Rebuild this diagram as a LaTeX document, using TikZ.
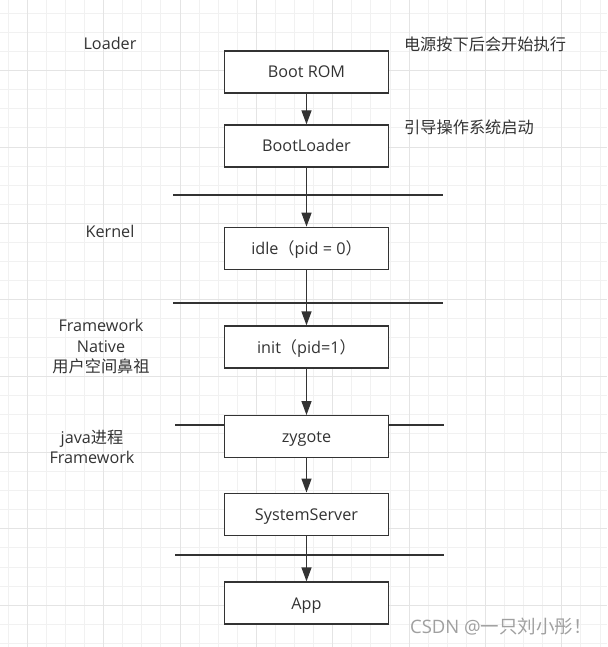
\documentclass[tikz,border=0pt]{standalone}
\usepackage{fontspec}
\setmainfont{Open Sans}
\newfontfamily\cjk{Noto Sans CJK SC}
\usetikzlibrary{arrows.meta}
\definecolor{ink}{HTML}{333333}
\definecolor{gridminor}{HTML}{F1F1F1}
\definecolor{gridmajor}{HTML}{E4E4E4}
\definecolor{wmgray}{HTML}{A0A0A0}
\begin{document}
\begin{tikzpicture}[x=1pt,y=-1pt,
  box/.style={draw=ink, line width=1.3pt, fill=white, minimum width=164pt, minimum height=42pt, inner sep=0pt, text height=15.5pt, text depth=3.5pt, text=ink, font=\fontsize{16.2}{19}\selectfont},
  lbl/.style={text=ink, font=\fontsize{16.2}{20.5}\selectfont, align=center, inner sep=0pt},
  flow/.style={draw=ink, line width=1.3pt, -{Triangle[length=14pt,width=10pt]}},
  sep/.style={draw=ink, line width=1.3pt}]
\useasboundingbox (0,0) rectangle (607,647);
\fill[white] (0,0) rectangle (607,647);
% grid
\foreach \i in {0,...,31} { \draw[gridminor, line width=1pt] ({8.2+19.09*\i},0) -- ++(0,647); }
\foreach \i in {0,...,33} { \draw[gridminor, line width=1pt] (0,{13.4+19.09*\i}) -- ++(607,0); }
\foreach \i in {0,...,7} { \draw[gridmajor, line width=1pt] ({27.3+76.36*\i},0) -- ++(0,647); }
\foreach \i in {-1,...,7} { \draw[gridmajor, line width=1pt] (0,{70.7+76.36*\i}) -- ++(607,0); }
% separators
\coordinate (s1a) at (173,195); \coordinate (s1b) at (443,195);
\coordinate (s2a) at (173,303); \coordinate (s2b) at (443,303);
\coordinate (s3a) at (175,425); \coordinate (s3b) at (444,425);
\coordinate (s4a) at (175,555); \coordinate (s4b) at (444,555);
\draw[sep] (s1a) -- (s1b);
\draw[sep] (s2a) -- (s2b);
\draw[sep] (s3a) -- (s3b);
\draw[sep] (s4a) -- (s4b);
% boxes
\node[box] (rom) at (306.5,72) {Boot ROM};
\node[box] (bl) at (306.5,146) {BootLoader};
\node[box] (idle) at (306.5,248.3) {idle{\cjk （}pid = 0{\cjk ）}};
\node[box] (init) at (306.5,347) {init{\cjk （}pid=1{\cjk ）}};
\node[box] (zyg) at (306.5,436.7) {zygote};
\node[box] (ss) at (306.5,514.2) {SystemServer};
\node[box] (app) at (306.5,603) {App};
% arrows
\draw[flow] (rom) -- (bl);
\draw[flow] (bl) -- (idle);
\draw[flow] (idle) -- (init);
\draw[flow] (init) -- (zyg);
\draw[flow] (zyg) -- (ss);
\draw[flow] (ss) -- (app);
% labels
\node[lbl] (loader) at (110,43) {Loader};
\node[lbl] (n1) at (485,44) {\cjk 电源按下后会开始执行};
\node[lbl] (n2) at (469,127) {\cjk 引导操作系统启动};
\node[lbl] (kernel) at (110,231) {Kernel};
\node[lbl] (fw) at (101,347) {Framework\\Native\\{\cjk 用户空间鼻祖}};
\node[lbl] (java) at (92,447) {java{\cjk 进程}\\Framework};
\node[text=wmgray, font=\fontsize{18.5}{21}\selectfont, inner sep=0pt] (wm) at (501,627) {CSDN @{\cjk 一只刘小彤！}};
\end{tikzpicture}
\end{document}
